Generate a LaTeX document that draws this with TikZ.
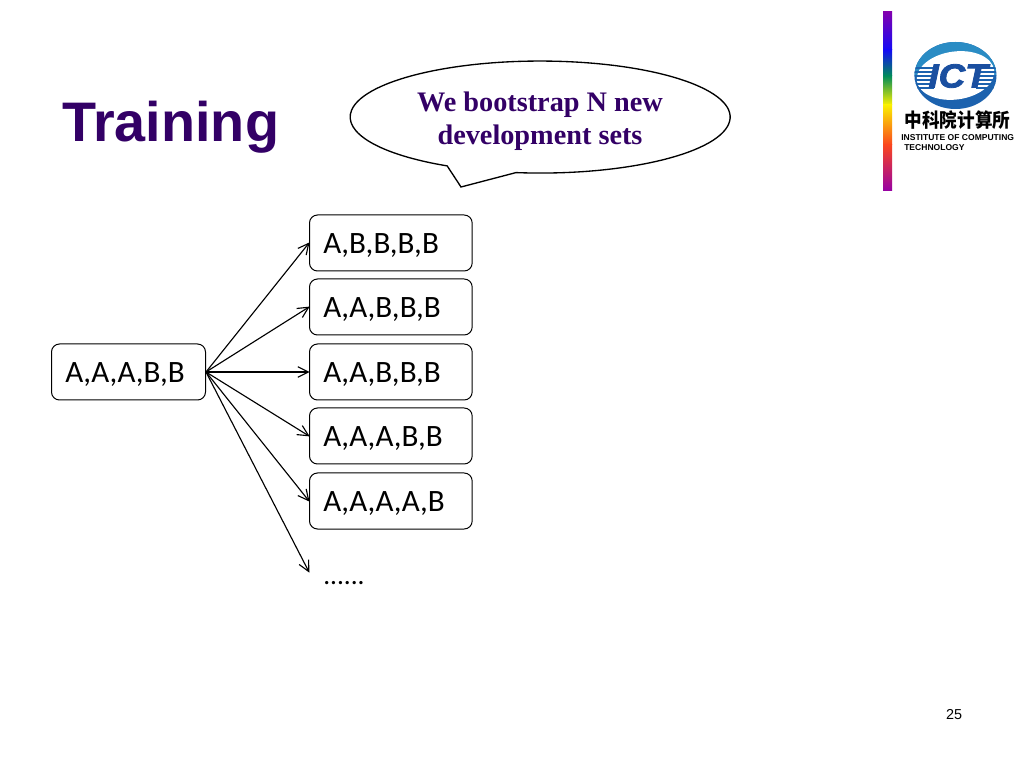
\documentclass[tikz,border=0pt]{standalone}
\usepackage{fontspec}
\setmainfont{Liberation Sans}
\newfontfamily\calfont{Carlito}
\newfontfamily\serfont{Liberation Serif}
\newfontfamily\cjkfont{Noto Sans CJK SC}
\newfontfamily\ictfont[BoldItalicFeatures={FakeBold=2.5}]{Liberation Sans}
\usetikzlibrary{arrows.meta}
\pgfdeclarearrow{
  name=OpenTip,
  setup code={\pgfarrowssettipend{0.4pt}\pgfarrowssetlineend{0pt}\pgfarrowssetvisualbackend{-1pt}\pgfarrowssetbackend{-8pt}},
  drawing code={\pgfsetdash{}{0pt}\pgfsetmiterjoin
    \pgfpathmoveto{\pgfqpoint{-8pt}{4pt}}\pgfpathlineto{\pgfpointorigin}\pgfpathlineto{\pgfqpoint{-8pt}{-4pt}}\pgfusepathqstroke},
}
\definecolor{titlepurple}{HTML}{330066}
\definecolor{ictteal}{HTML}{2A8CC4}
\definecolor{ictblue}{HTML}{1C62AE}
\definecolor{ictdark}{HTML}{1A4FA0}
\definecolor{barpurple}{RGB}{130,0,175}
\definecolor{barblue}{RGB}{20,10,245}
\definecolor{bargreen}{RGB}{0,140,90}
\definecolor{baryellow}{RGB}{250,240,0}
\definecolor{barred}{RGB}{250,70,30}
\definecolor{barmag}{RGB}{150,0,165}
\tikzset{
  setbox/.style={draw=black,line width=0.75pt,rounded corners=6pt,fill=white,minimum height=42pt,anchor=west,inner sep=0pt},
  boxtext/.style={font=\calfont\fontsize{23.3}{28}\selectfont,text=black},
  link/.style={draw=black,line width=0.85pt,-{OpenTip}},
}
\begin{document}
\begin{tikzpicture}[x=0.75pt,y=0.75pt]
\useasboundingbox (0,0) rectangle (1024,768);
\fill[white] (0,0) rectangle (1024,768);
% colour bar
\shade[top color=barpurple,bottom color=barblue] (883,756) rectangle (892,718);
\shade[top color=barblue,bottom color=bargreen] (883,718.2) rectangle (892,692);
\shade[top color=bargreen,bottom color=baryellow] (883,692.2) rectangle (892,663);
\shade[top color=baryellow,bottom color=barred] (883,663.2) rectangle (892,623);
\shade[top color=barred,bottom color=barmag] (883,623.2) rectangle (892,577);
% logo
\fill[ictblue] (955.5,692.5) ellipse[x radius=41,y radius=33.5];
\begin{scope}
\clip (955.5,692.5) ellipse[x radius=41,y radius=33.5];
\fill[ictteal] (914,692) rectangle (997,727);
\end{scope}
\fill[white,rotate around={8:(955.5,692.5)}] (955.5,692.5) ellipse[x radius=39,y radius=24];
\begin{scope}
\clip (955.5,692.5) ellipse[x radius=41,y radius=33.5];
\foreach \yy in {680,684,688,692,696,700}{
  \draw[ictblue,line width=1.7pt] (914,\yy) -- (934,\yy);
  \draw[ictblue,line width=1.7pt] (976,\yy) -- (997,\yy);
}
\end{scope}
\node[inner sep=0pt,text=ictdark,xscale=1.1,font=\ictfont\bfseries\itshape\fontsize{25}{26}\selectfont] (ict) at (958,692) {ICT};
\node[inner sep=0pt,anchor=center,yscale=1.1,font=\cjkfont\bfseries\fontsize{13.2}{14}\selectfont] (cn) at (957.5,647.5) {中科院计算所};
\node[inner sep=0pt,anchor=base west,font=\bfseries\fontsize{6.4}{7}\selectfont] (inst) at (901,627) {INSTITUTE OF COMPUTING};
\node[inner sep=0pt,anchor=base west,font=\bfseries\fontsize{6.4}{7}\selectfont] (tech) at (904,617) {TECHNOLOGY};
% title
\node[inner sep=0pt,anchor=base west,text=titlepurple,font=\bfseries\fontsize{41.8}{45}\selectfont] (title) at (62,626) {Training};
% callout
\draw[black,line width=1pt,fill=white] (516,595.4) arc[start angle=-97.3,end angle=240.7,x radius=190,y radius=56] -- (461,581) -- cycle;
\node[inner sep=0pt,anchor=base,text=titlepurple,font=\serfont\bfseries\fontsize{21.2}{25}\selectfont] (c1) at (540,656) {We bootstrap N new};
\node[inner sep=0pt,anchor=base,text=titlepurple,font=\serfont\bfseries\fontsize{21.2}{25}\selectfont] (c2) at (540,623) {development sets};
% boxes
\node[setbox,minimum width=115.5pt] (src) at (51,396) {};
\node[boxtext,inner sep=0pt,anchor=base west] (srct) at (65,385) {A,A,A,B,B};
\foreach \n/\y/\t in {a/525/{A,B,B,B,B},b/461/{A,A,B,B,B},c/396/{A,A,B,B,B},d/332/{A,A,A,B,B},e/267/{A,A,A,A,B}}{
  \node[setbox,minimum width=122pt] (\n) at (309,\y) {};
  \node[boxtext,inner sep=0pt,anchor=base west] (\n t) at (323,\y-11) {\t};
}
\coordinate (more) at (309,196);
\node[inner sep=0pt,anchor=base west,font=\calfont\fontsize{20.5}{25}\selectfont] (dots) at (323,184) {......};
\foreach \n in {a,b,c,d,e}{ \draw[link] (src.east) -- (\n.west); }
\draw[link] (src.east) -- (more);
% page number
\node[inner sep=0pt,anchor=base,font=\fontsize{10.8}{12}\selectfont] (pg) at (954,49) {25};
\end{tikzpicture}
\end{document}
